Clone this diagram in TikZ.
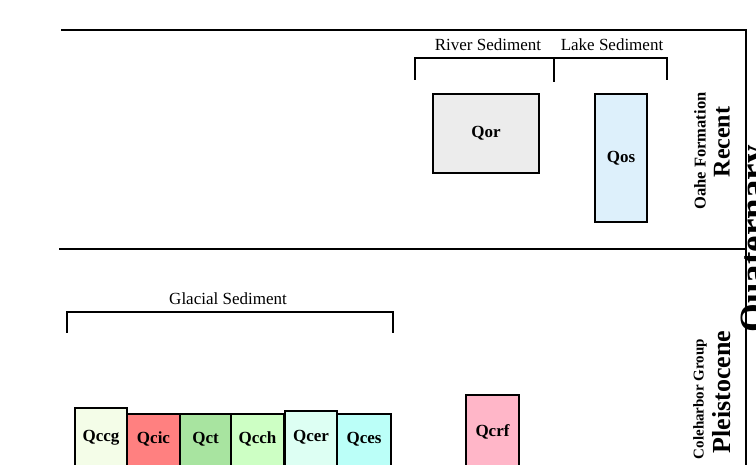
\documentclass[tikz,border=0pt]{standalone}
\usepackage{fontspec}
\setmainfont{Liberation Serif}
\begin{document}
\begin{tikzpicture}[x=1pt,y=-1pt,
  rule/.style={line width=2.2pt, line cap=rect},
  brace/.style={line width=1.9pt},
  unitbox/.style={draw=black, line width=2pt},
  unitlabel/.style={font=\fontsize{17}{19}\selectfont\bfseries, inner sep=0pt},
  grouplabel/.style={font=\fontsize{17}{20}\selectfont, inner sep=0pt},
  vlabel/.style={rotate=90, inner sep=0pt}]
\useasboundingbox (0,0) rectangle (756,465);

% frame lines
\draw[rule] (62,30) -- (746,30) -- (746,470);
\draw[rule] (60,249) -- (746,249);

% river / lake brackets
\node[grouplabel] (river) at (488,45) {River Sediment};
\node[grouplabel] (lake) at (612,45) {Lake Sediment};
\draw[brace] (415,80) -- (415,58) -- (667,58) -- (667,80);
\draw[brace] (554,58) -- (554,82);

% Recent units
\node[unitbox, fill=gray!15, minimum width=106pt, minimum height=79pt, inner sep=0pt] (qor) at (486,133.5) {};
\node[unitlabel] (qorl) at (qor) {Qor};
\node[unitbox, fill={rgb,255:red,221;green,240;blue,251}, minimum width=52pt, minimum height=128pt, inner sep=0pt] (qos) at (621,158) {};
\node[unitlabel] (qosl) at (qos) {Qos};

% glacial bracket
\node[grouplabel] (glacial) at (228,299) {Glacial Sediment};
\draw[brace] (67,333) -- (67,312) -- (393,312) -- (393,333);

% Pleistocene units
\draw[unitbox, fill={rgb,255:red,244;green,253;blue,232}] (75,408) rectangle (127,485);
\draw[unitbox, fill={rgb,255:red,255;green,128;blue,128}] (127,414) rectangle (180,485);
\draw[unitbox, fill={rgb,255:red,168;green,228;blue,160}] (180,414) rectangle (231,485);
\draw[unitbox, fill={rgb,255:red,205;green,255;blue,196}] (231,414) rectangle (284,485);
\draw[unitbox, fill={rgb,255:red,221;green,255;blue,243}] (285,411) rectangle (337,485);
\draw[unitbox, fill={rgb,255:red,187;green,255;blue,248}] (337,414) rectangle (391,485);
\draw[unitbox, fill={rgb,255:red,255;green,182;blue,200}] (466,395) rectangle (519,485);
\node[unitlabel] (qccg) at (101,438) {Qccg};
\node[unitlabel] (qcic) at (153.5,439) {Qcic};
\node[unitlabel] (qct) at (205.5,439) {Qct};
\node[unitlabel] (qcch) at (257.5,439) {Qcch};
\node[unitlabel] (qcer) at (311,437) {Qcer};
\node[unitlabel] (qces) at (364,439) {Qces};
\node[unitlabel] (qcrf) at (492.5,432) {Qcrf};

% side labels
\node[vlabel, font=\fontsize{16.5}{18}\selectfont\bfseries] (oahe) at (700,151) {Oahe Formation};
\node[vlabel, font=\fontsize{24}{26}\selectfont\bfseries] (recent) at (722,142) {Recent};
\node[vlabel, font=\fontsize{15}{17}\selectfont\bfseries] (cole) at (700,399) {Coleharbor Group};
\node[vlabel, font=\fontsize{26}{28}\selectfont\bfseries] (pleist) at (722,392) {Pleistocene};
\node[vlabel, anchor=north, font=\fontsize{37}{39}\selectfont\bfseries] (quat) at (741,239) {Quaternary};
\end{tikzpicture}
\end{document}
